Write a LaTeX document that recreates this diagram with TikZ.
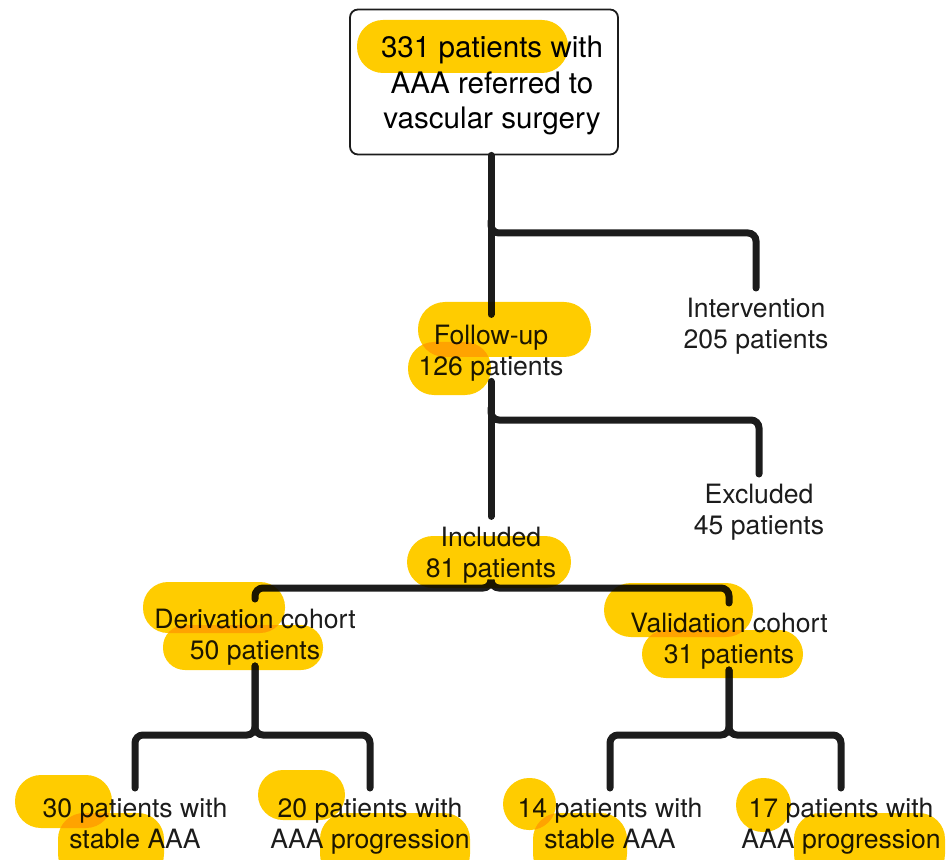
\documentclass[tikz,border=0pt]{standalone}
\usepackage{fontspec}
\setmainfont{TeX Gyre Heros}
\usetikzlibrary{positioning}
\definecolor{evidenz}{HTML}{FFCC00}
\definecolor{linea}{HTML}{1C1C1C}
\tikzset{
  scatola/.style = {rectangle, draw=linea, line width=0.9pt, rounded corners=4pt, minimum width=134pt, minimum height=72.5pt, align=center, font=\fontsize{14.8}{17.75}\selectfont},
  testo/.style   = {align=center, inner sep=0pt, anchor=north, font=\fontsize{13.3}{15.5}\selectfont, text=linea},
  link/.style    = {draw=linea, line width=3.5pt, line cap=round, rounded corners=4pt, shorten >=5pt},
  evid/.style    = {fill=evidenz}
}
\newcommand{\segna}[5]{\fill[evid, rounded corners=#5pt] (#1,#2) rectangle (#3,#4);}
\newcommand{\rientro}{\hspace*{8pt}}

\begin{document}
\begin{tikzpicture}[x=0.5pt, y=-0.5pt]
  \useasboundingbox (0,0) rectangle (951,860);

  \node[scatola] (top) at (484,82) {\rule{0pt}{14.5pt}\rientro 331 patients with\\\rientro AAA referred to\\\rientro vascular surgery};

  % follow-up / intervention
  \node[testo, below=84.5pt of top, xshift=3.5pt] (followup) {Follow-up\\126 patients};
  \node[testo] (interv) at (756,298) {Intervention\\205 patients};

  % included / excluded
  \node[testo, below=72.5pt of followup] (incl) {Included\\81 patients};
  \node[testo] (excl) at (759,484) {Excluded\\45 patients};

  % coorti
  \node[testo] (deriv) at (255,609) {Derivation cohort\\50 patients};
  \node[testo] (valid) at (729,613) {Validation cohort\\31 patients};

  % esiti
  \node[testo] (dstable) at (135,798) {30 patients with\\stable AAA};
  \node[testo] (dprog)   at (370,798) {20 patients with\\AAA progression};
  \node[testo] (vstable) at (610,798) {14 patients with\\stable AAA};
  \node[testo] (vprog)   at (841,798) {17 patients with\\AAA progression};

  \coordinate (jA) at (491,221);
  \coordinate (kA) at (491,233);
  \coordinate (jB) at (491,408);
  \coordinate (kB) at (491,420);
  \coordinate (kC) at (491,588);
  \coordinate (kD) at (255,735);
  \coordinate (kE) at (729,735);

  \draw[link] (top.south -| followup.north) -- (followup.north);
  \draw[link] (jA) -- (kA) -| (interv.north);

  \draw[link] (followup.south) -- (incl.north);
  \draw[link] (jB) -- (kB) -| (excl.north);

  \draw[link] (incl.south) -- (kC) -| (deriv.north);
  \draw[link] (incl.south) -- (kC) -| (valid.north);

  \draw[link] (deriv.south) -- (kD) -| (dstable.north);
  \draw[link] (deriv.south) -- (kD) -| (dprog.north);
  \draw[link] (valid.south) -- (kE) -| (vstable.north);
  \draw[link] (valid.south) -- (kE) -| (vprog.north);

  % evidenziatore
  \begin{scope}[blend mode=multiply]
    \segna{357}{20}{568}{73}{13}
    \segna{418}{302}{591}{357}{13.5}
    \segna{408}{342}{491}{395}{13}
    \segna{407}{536}{571}{588}{13}
    \segna{143}{582}{285}{633}{12.5}
    \segna{163}{625}{323}{670}{11}
    \segna{604}{583}{753}{637}{13.5}
    \segna{642}{630}{803}{678}{12}
    \segna{15}{775}{112}{828}{13}
    \segna{58}{813}{164}{880}{13}
    \segna{258}{770}{345}{820}{12.5}
    \segna{320}{813}{470}{880}{13}
    \segna{503}{778}{556}{830}{13}
    \segna{533}{813}{627}{880}{13}
    \segna{736}{778}{791}{832}{13.5}
    \segna{794}{813}{945}{880}{13}
  \end{scope}

\end{tikzpicture}
\end{document}
